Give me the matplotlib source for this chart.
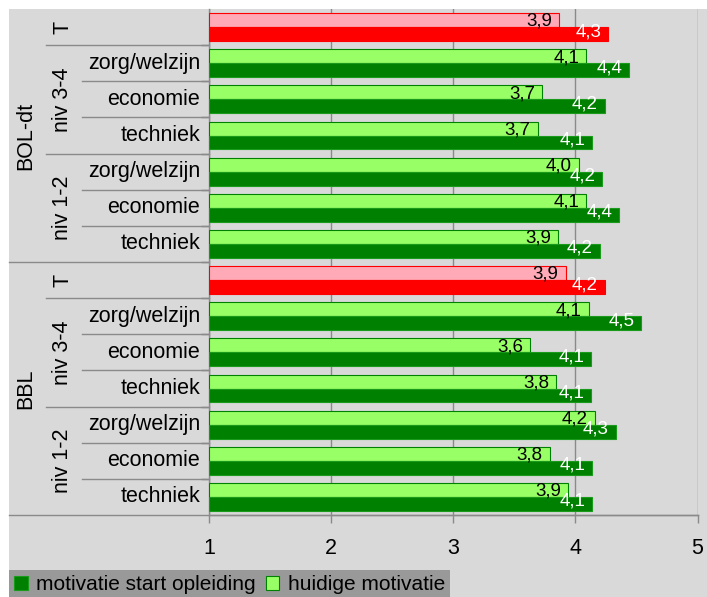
import numpy as np
import matplotlib

matplotlib.use("Agg")
import matplotlib.pyplot as plt
import matplotlib.transforms as mtransforms
from matplotlib.patches import Patch, Rectangle
from matplotlib.lines import Line2D

plt.rcParams["font.family"] = ["Liberation Sans", "DejaVu Sans"]

# data (top row first)
row_section = ["BOL-dt"] * 7 + ["BBL"] * 7
row_group = ["T", "niv 3-4", "niv 3-4", "niv 3-4", "niv 1-2", "niv 1-2", "niv 1-2"] * 2
row_label = ["", "zorg/welzijn", "economie", "techniek", "zorg/welzijn", "economie", "techniek"] * 2
huidige = [3.87, 4.09, 3.73, 3.69, 4.03, 4.09, 3.86, 3.92, 4.11, 3.63, 3.84, 4.16, 3.79, 3.94]
start = [4.27, 4.44, 4.24, 4.14, 4.22, 4.36, 4.20, 4.24, 4.54, 4.13, 4.13, 4.33, 4.14, 4.14]
series_names = ["motivatie start opleiding", "huidige motivatie"]
xticks = [1, 2, 3, 4, 5]

W, H = 707, 597
BG = "#d9d9d9"
GRID = "#8a8a8a"
DARK = "#008000"
LIGHT = "#99ff66"
RED = "#ff0000"
PINK = "#ffaab6"

fig = plt.figure(figsize=(W / 100, H / 100), dpi=100)
fig.patch.set_facecolor("white")
fig.patches.append(
    Rectangle((9 / W, 0), 1 - 9 / W, 1 - 9 / H, transform=fig.transFigure,
              facecolor=BG, edgecolor="none", zorder=-10)
)

ax_l, ax_r = 209 / W, 697.5 / W
ax_b, ax_t = 1 - 515 / H, 1 - 9 / H
ax = fig.add_axes([ax_l, ax_b, ax_r - ax_l, ax_t - ax_b])
ax.set_facecolor(BG)

n = len(row_label)
y = np.arange(n)
h = 0.387
is_t = np.array([g == "T" for g in row_group])
huidige = np.array(huidige)
start = np.array(start)

light_fc = np.where(is_t, PINK, LIGHT)
light_ec = np.where(is_t, RED, DARK)
dark_fc = np.where(is_t, RED, DARK)
dark_ec = np.where(is_t, RED, "#1a9a1a")

ax.barh(y - h / 2, huidige - 1, left=1, height=h, color=light_fc,
        edgecolor=light_ec, linewidth=0.8, zorder=3)
ax.barh(y + h / 2, start - 1, left=1, height=h, color=dark_fc,
        edgecolor=dark_ec, linewidth=0.8, zorder=3)

for i in range(n):
    ax.annotate(f"{huidige[i]:.1f}".replace(".", ","), xy=(huidige[i], y[i] - h / 2),
                xytext=(-5, -1.0), textcoords="offset points", ha="right",
                va="center", fontsize=13.5, color="black", zorder=4)
    ax.annotate(f"{start[i]:.1f}".replace(".", ","), xy=(start[i], y[i] + h / 2),
                xytext=(-5, 1.8), textcoords="offset points", ha="right",
                va="center", fontsize=13.5, color="white", zorder=4)

ax.set_xlim(1, 5)
ax.set_ylim(n - 0.5, -0.5)
ax.set_xticks(xticks)
ax.set_xticklabels([str(t) for t in xticks], fontsize=15.5)
ax.tick_params(axis="x", length=5.8, width=1.0, color=GRID, pad=10.5)
ax.set_yticks([])
ax.set_yticks(np.arange(0.5, n - 0.5, 1), minor=True)
ax.tick_params(axis="y", which="minor", length=5.8, width=1.0, color="#777777")
ax.grid(axis="x", color=GRID, linewidth=1.0, zorder=0)
ax.set_axisbelow(True)
for s in ["top", "right"]:
    ax.spines[s].set_visible(False)
ax.spines["left"].set_color(GRID)
ax.spines["left"].set_linewidth(1.0)
ax.spines["bottom"].set_color(GRID)
ax.spines["bottom"].set_linewidth(1.0)

# left side category hierarchy
tr = mtransforms.blended_transform_factory(fig.transFigure, ax.transData)
for i in range(n):
    if row_label[i]:
        ax.text(200 / W, i, row_label[i], transform=tr, ha="right", va="center",
                fontsize=15.5)


def runs(keys):
    out = []
    start_i = 0
    for i in range(1, len(keys) + 1):
        if i == len(keys) or keys[i] != keys[start_i]:
            out.append((keys[start_i], start_i, i - 1))
            start_i = i
    return out


for (sec, grp), a, b in runs(list(zip(row_section, row_group))):
    ax.text(63 / W, (a + b) / 2, grp, transform=tr, rotation=90, ha="center",
            va="center", fontsize=15.5)
for sec, a, b in runs(row_section):
    ax.text(26 / W, (a + b) / 2, sec, transform=tr, rotation=90, ha="center",
            va="center", fontsize=15.5)

# separator lines
sec_runs = runs(row_section)
grp_runs = runs(list(zip(row_section, row_group)))
sec_bounds = [b + 0.5 for _, _, b in sec_runs[:-1]]
grp_bounds = [b + 0.5 for _, _, b in grp_runs[:-1] if b + 0.5 not in sec_bounds]
for i in range(n - 1):
    yb = i + 0.5
    if yb in sec_bounds:
        x0 = 9 / W
    elif yb in grp_bounds:
        x0 = 46 / W
    else:
        x0 = 82 / W
    fig.add_artist(Line2D([x0, ax_l], [yb, yb], transform=tr, color=GRID,
                          linewidth=1.0, clip_on=False))
fig.add_artist(Line2D([9 / W, ax_r], [n - 0.5, n - 0.5], transform=tr, color=GRID,
                      linewidth=1.0, clip_on=False))

handles = [
    Patch(facecolor=DARK, edgecolor="#1a9a1a", linewidth=0.8),
    Patch(facecolor=LIGHT, edgecolor=DARK, linewidth=0.8),
]
leg = fig.legend(handles, series_names, loc="lower left", bbox_to_anchor=(9 / W, -0.004),
                 ncol=2, fontsize=15, frameon=True, fancybox=False, borderpad=0.25,
                 handlelength=0.67, handleheight=0.67, handletextpad=0.4,
                 columnspacing=0.45, borderaxespad=0)
leg.get_frame().set_facecolor("#999999")
leg.get_frame().set_edgecolor("none")
leg.get_frame().set_alpha(1)

fig.savefig("out.png", dpi=100)
